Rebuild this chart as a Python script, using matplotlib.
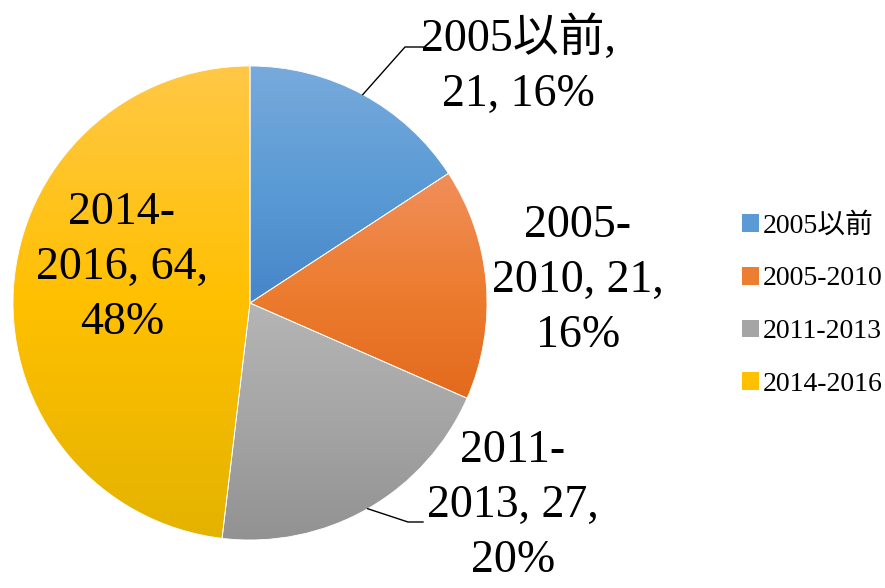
import numpy as np
import matplotlib
matplotlib.use("Agg")
import matplotlib.pyplot as plt
from matplotlib import colors
from matplotlib.patches import Patch

FONT = ['Liberation Serif', 'Noto Sans CJK JP']
plt.rcParams['font.family'] = FONT

# Data
# -----------------------------------------------------------------------------
categories = ["2005以前", "2005-2010", "2011-2013", "2014-2016"]
values     = [21, 21, 27, 64]
percents   = [16, 16, 20, 48]
label_text = ["2005以前,\n21, 16%",
              "2005-\n2010, 21,\n16%",
              "2011-\n2013, 27,\n20%",
              "2014-\n2016, 64,\n48%"]

# gradient stops (top, middle, bottom) per slice
grad = [("#78AADC", "#5B9BD5", "#4686C9"),
        ("#F08F5B", "#ED7D31", "#E36A1C"),
        ("#B5B5B5", "#A5A5A5", "#929292"),
        ("#FFC847", "#FFC000", "#E4B300")]

# Layout (pixel units)
# -----------------------------------------------------------------------------
W, H = 885, 588
cx, cy, r = 250, H - 303, 237

fig = plt.figure(figsize=(W / 100, H / 100), dpi=100)
ax = fig.add_axes([0, 0, 1, 1])

wedges, _ = ax.pie(values, startangle=90, counterclock=False, radius=r,
                   center=(cx, cy),
                   wedgeprops=dict(edgecolor="white", linewidth=0.6))

for w, g in zip(wedges, grad):
    cmap = colors.LinearSegmentedColormap.from_list("g", list(g))
    ext = w.get_path().get_extents(w.get_patch_transform())
    gv = np.linspace(0, 1, 256).reshape(-1, 1)
    im = ax.imshow(gv, cmap=cmap, aspect="auto", origin="upper",
                   extent=[ext.x0, ext.x1, ext.y0, ext.y1],
                   interpolation="bilinear", zorder=w.get_zorder())
    im.set_clip_path(w)
    w.set_facecolor("none")
    w.set_zorder(w.get_zorder() + 0.5)

ax.set_xlim(0, W)
ax.set_ylim(0, H)
ax.set_aspect("equal")
ax.axis("off")

# mid angles of slices (math convention, degrees)
cum = np.cumsum([0] + values)
total = cum[-1]
mid = [90 - 360 * (cum[i] + values[i] / 2) / total for i in range(len(values))]

fs = 33
ls = 1.38
# label centres and leader elbows (None = no leader)
label_pos = [(518, H - 66), (578, H - 281), (513, H - 506), (122, H - 268)]
leaders = [((405, H - 47), (423, H - 47)), None,
           ((408, H - 522), (423, H - 522)), None]

for i, txt in enumerate(label_text):
    x, y = label_pos[i]
    ax.text(x, y, txt, ha="center", va="center", fontsize=fs,
            linespacing=ls, family=FONT, zorder=5)
    if leaders[i] is not None:
        a = np.deg2rad(mid[i])
        sx, sy = cx + r * np.cos(a), cy + r * np.sin(a)
        (ex, ey), (tx, ty) = leaders[i]
        ax.plot([sx, ex, tx], [sy, ey, ty], color="black", lw=1, zorder=6)

handles = [Patch(facecolor=g[1], edgecolor="none") for g in grad]
leg = ax.legend(handles, categories, loc="center left",
                bbox_to_anchor=(731 / W, 1 - 305 / H),
                frameon=False, handlelength=0.6, handleheight=0.6,
                handletextpad=0.15, labelspacing=1.0, borderaxespad=0,
                prop=dict(family=FONT, size=20))

fig.savefig("out.png", dpi=100)
